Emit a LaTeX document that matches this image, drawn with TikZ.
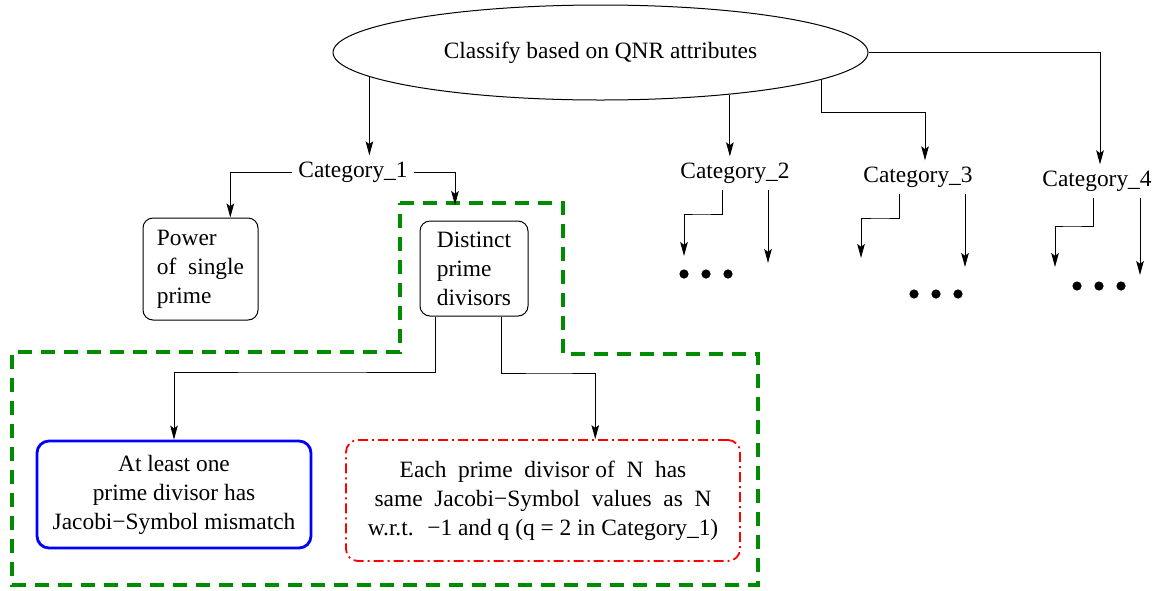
\documentclass[tikz,border=0pt]{standalone}
\usepackage{fontspec}
\setmainfont{Liberation Serif}
\usetikzlibrary{shapes.geometric,arrows.meta,calc}
\definecolor{dgreen}{RGB}{0,140,0}
\tikzset{
  arr/.style={-{Stealth[length=7pt,width=3.8pt,inset=1.4pt]},line width=0.5pt},
  catname/.style={inner sep=3pt},
  plainbox/.style={draw,rounded corners=5pt,line width=0.5pt,align=left,anchor=center},
  bluebox/.style={draw=blue,rounded corners=6pt,line width=1.4pt,align=center},
  redbox/.style={draw=red,rounded corners=6pt,line width=0.9pt,dash pattern=on 5pt off 2pt on 1pt off 2pt,align=center},
  greenzone/.style={draw=dgreen,line width=2pt,dash pattern=on 7pt off 4.5pt}
}
\begin{document}
\begin{tikzpicture}[x=0.5pt,y=-0.5pt,font=\fontsize{11.7}{14.5}\selectfont]
\useasboundingbox (0,0) rectangle (1161,590);

\node[ellipse,draw,line width=0.5pt,minimum width=267.5pt,minimum height=47.5pt] (qnr) at (600.5,52.5) {Classify based on QNR attributes};

\node[catname] (cat1) at (353,172) {Category\_1};
\node[catname] (cat2) at (735,173) {Category\_2};
\node[catname] (cat3) at (918,177) {Category\_3};
\node[catname] (cat4) at (1097,181) {Category\_4};

\node[plainbox,minimum width=57.5pt,minimum height=51pt] (power) at (200.5,269) {Power\\of~ single\\prime};
\node[plainbox,minimum width=54pt,minimum height=47.5pt] (distinct) at (474,268.5) {Distinct\\prime\\divisors};

\node[bluebox,minimum width=137pt,minimum height=53.5pt] (mismatch) at (174,494.5) {At least one\\prime divisor has\\Jacobi−Symbol mismatch};
\node[redbox,minimum width=197pt,minimum height=60.5pt] (same) at (543,500.5) {Each~ prime~ divisor of~ N~ has\\same~ Jacobi−Symbol~ values~ as~ N\\w.r.t.~ −1 and q (q = 2 in Category\_1)};

\draw[greenzone] (400,203) -- (563,203) -- (563,354) -- (758,354) -- (758,585) -- (12,585) -- (12,352) -- (400,352) -- cycle;

\coordinate (d1) at (455,205);
\coordinate (c3top) at (925,112);

\draw[arr] (qnr.186) -- (qnr.186 |- cat1.north);
\draw[arr] (qnr.342.7) -- (qnr.342.7 |- cat2.north);
\draw[arr] (qnr.353.1) |- (c3top) -- (c3top |- cat3.north);
\draw[arr] (qnr.east) -| ([xshift=1.5pt]cat4.north);

\draw[arr] (cat1.west) -| ($(power.north west)!0.757!(power.north east)$);
\draw[arr] (cat1.east) -| (d1);

\draw[arr] ($(distinct.south west)!0.148!(distinct.south east)$) |- (300,372) -| (mismatch.north);
\draw[arr] ($(distinct.south west)!0.75!(distinct.south east)$) |- (550,373) -| ($(same.north west)!0.632!(same.north east)$);

\coordinate (c2a) at (684,256);
\coordinate (c2b) at (768,263);
\coordinate (c3a) at (861,258);
\coordinate (c3b) at (965,267);
\coordinate (c4a) at (1055,267);
\coordinate (c4b) at (1140,275);

\draw[arr] (cat2.south -| 722,0) |- (700,214) -| (c2a);
\draw[arr] (cat2.south -| c2b) -- (c2b);
\draw[arr] (cat3.south -| 899,0) |- (880,218) -| (c3a);
\draw[arr] (cat3.south -| c3b) -- (c3b);
\draw[arr] (cat4.south -| 1093,0) |- (1070,226) -| (c4a);
\draw[arr] (cat4.south -| c4b) -- (c4b);

\foreach \x/\y in {706/274, 936/294, 1099/286}
  \foreach \d in {-22,0,22}
    \fill (\x+\d,\y) circle (2.3pt);
\end{tikzpicture}
\end{document}
